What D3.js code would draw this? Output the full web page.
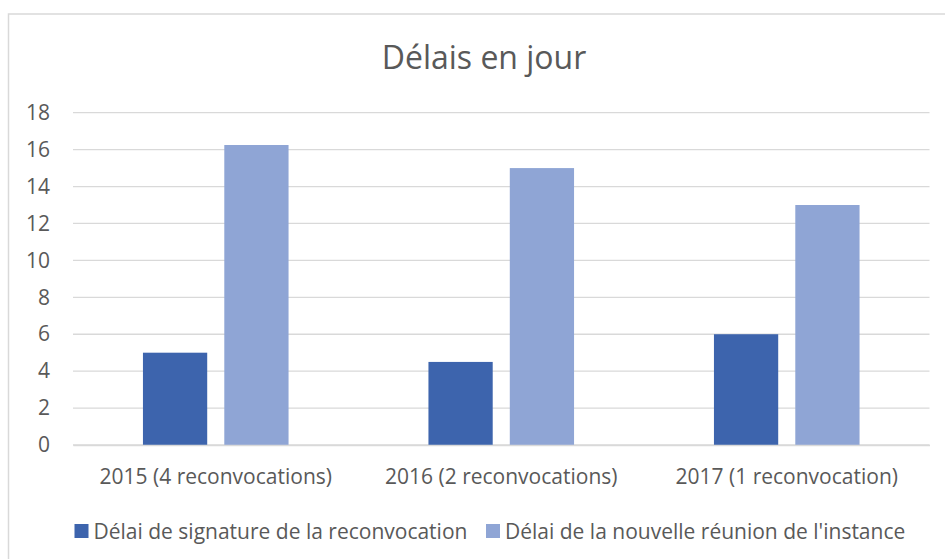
<!DOCTYPE html>
<html><head><meta charset="utf-8">
<script src="https://cdn.jsdelivr.net/npm/d3@7"></script>
<style>body{margin:0;background:#fff}svg{display:block}text{font-family:"Open Sans",sans-serif;fill:#595959}</style>
</head><body><svg id="c" width="945" height="559"></svg>
<script>
const categories = ["2015 (4 reconvocations)", "2016 (2 reconvocations)", "2017 (1 reconvocation)"];
const seriesNames = ["Délai de signature de la reconvocation", "Délai de la nouvelle réunion de l'instance"];
const signature = [5, 4.5, 6];
const reunion = [16.25, 15, 13];
const yTicks = [0, 2, 4, 6, 8, 10, 12, 14, 16, 18];
const colors = ["#3D64AD", "#8FA5D5"];

const svg = d3.select("#c");
const pLeft = 73, pRight = 929.5, pTop = 112.7, pBottom = 445;

svg.append("rect").attr("x", 8.5).attr("y", 14).attr("width", 960).attr("height", 600)
  .attr("fill", "#fff").attr("stroke", "#d9d9d9").attr("stroke-width", 1.5);

const x0 = d3.scaleBand().domain(categories).range([pLeft, pRight]).paddingInner(0.49).paddingOuter(0.245);
const x1 = d3.scaleBand().domain([0, 1]).range([0, x0.bandwidth()]).paddingInner(0.21);
const y = d3.scaleLinear().domain([0, 18]).range([pBottom, pTop]);

const grid = svg.append("g");
grid.selectAll("line").data(yTicks).join("line")
  .attr("x1", pLeft).attr("x2", pRight).attr("y1", d => y(d)).attr("y2", d => y(d))
  .attr("stroke", "#d9d9d9").attr("stroke-width", 1.3);

const yAxis = svg.append("g").attr("transform", `translate(${pLeft},0)`)
  .call(d3.axisLeft(y).tickValues(yTicks).tickSize(0).tickPadding(23));
yAxis.select(".domain").remove();
yAxis.selectAll("text").style("font-size", "21px").attr("fill", "#595959");

const data = categories.map((c, i) => ({c, v: [signature[i], reunion[i]]}));
const groups = svg.append("g").selectAll("g").data(data).join("g")
  .attr("transform", d => `translate(${x0(d.c)},0)`);
groups.selectAll("rect").data(d => d.v.map((v, k) => ({v, k}))).join("rect")
  .attr("x", d => x1(d.k)).attr("width", x1.bandwidth())
  .attr("y", d => y(d.v)).attr("height", d => y(0) - y(d.v))
  .attr("fill", d => colors[d.k]);

const xAxis = svg.append("g").attr("transform", `translate(0,${pBottom})`)
  .call(d3.axisBottom(x0).tickSize(0).tickPadding(24));
xAxis.select(".domain").attr("stroke", "#d9d9d9").attr("stroke-width", 1.3);
xAxis.selectAll("text").style("font-size", "21px").attr("fill", "#595959");

svg.append("text").attr("x", 484).attr("y", 69).attr("text-anchor", "middle")
  .style("font-size", "32px").text("Délais en jour");

const legX = [74.5, 486];
const leg = svg.append("g").selectAll("g").data(seriesNames).join("g")
  .attr("transform", (d, i) => `translate(${legX[i]},524)`);
leg.append("rect").attr("width", 14).attr("height", 14).attr("fill", (d, i) => colors[i]);
leg.append("text").attr("x", 19).attr("y", 14.5).style("font-size", "21px").text(d => d);
</script></body></html>
